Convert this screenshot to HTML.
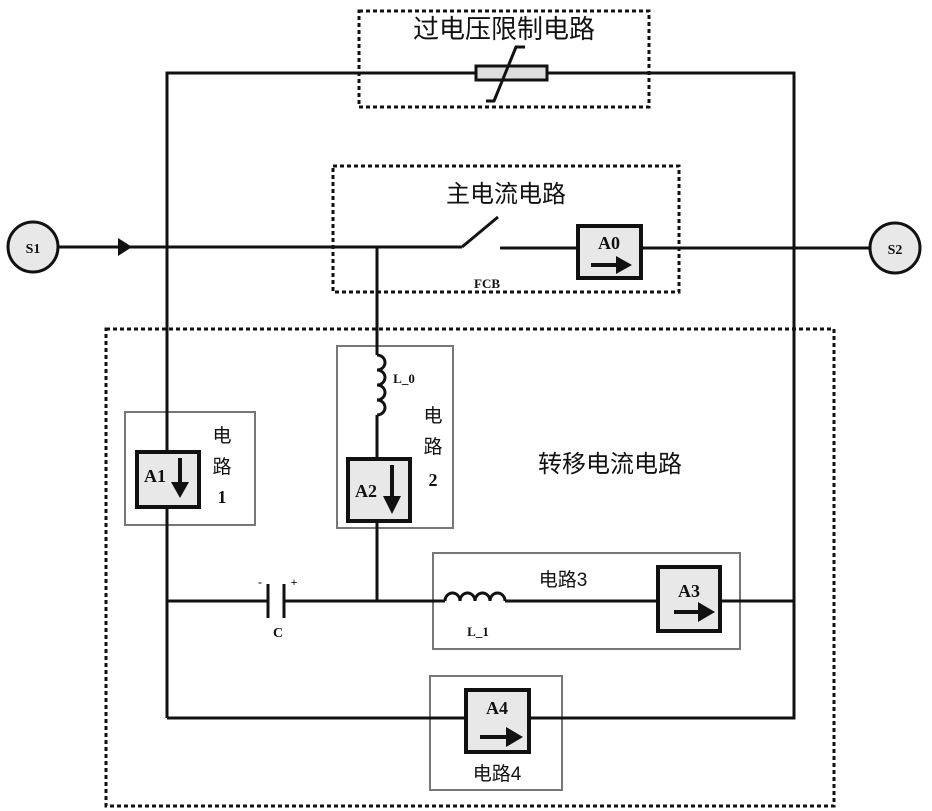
<!DOCTYPE html>
<html><head><meta charset="utf-8"><style>
body{margin:0;background:#fff}
svg{display:block}
.t{font-family:"Liberation Serif","Noto Serif CJK SC",serif;font-weight:bold;fill:#111}
.c{font-family:"Liberation Sans","Noto Sans CJK SC",sans-serif;fill:#111}
</style></head><body>
<svg width="932" height="811" viewBox="0 0 932 811" xmlns="http://www.w3.org/2000/svg">
<g fill="none" stroke="#111" stroke-width="3" stroke-dasharray="4,3">
<rect x="359" y="11" width="290" height="96"/>
<rect x="333" y="166" width="346" height="126"/>
<rect x="106" y="329" width="728" height="477"/>
</g>
<g fill="none" stroke="#777" stroke-width="2">
<rect x="125" y="412" width="130" height="113"/>
<rect x="337" y="346" width="116" height="182"/>
<rect x="433" y="553" width="307" height="96"/>
<rect x="430" y="676" width="132" height="114"/>
</g>
<g fill="none" stroke="#111" stroke-width="3">
<polyline points="167,718 167,73 794,73 794,718 167,718"/>
<line x1="56" y1="247" x2="462" y2="247"/>
<line x1="462" y1="247" x2="498" y2="217"/>
<line x1="500" y1="248" x2="870" y2="248"/>
<line x1="377" y1="247" x2="377" y2="355"/>
<line x1="377" y1="415" x2="377" y2="601"/>
<line x1="167" y1="601" x2="268" y2="601"/>
<line x1="284" y1="601" x2="445" y2="601"/>
<line x1="505" y1="601" x2="794" y2="601"/>
<path d="M377,355 a8,7.5 0 0 1 0,15 a8,7.5 0 0 1 0,15 a8,7.5 0 0 1 0,15 a8,7.5 0 0 1 0,15"/>
<path d="M445,601 a7.5,8 0 0 1 15,0 a7.5,8 0 0 1 15,0 a7.5,8 0 0 1 15,0 a7.5,8 0 0 1 15,0"/>
<line x1="268" y1="584" x2="268" y2="618"/>
<line x1="284" y1="584" x2="284" y2="618"/>
</g>
<rect x="476" y="66" width="71" height="14" fill="#ddd" stroke="#111" stroke-width="3"/>
<polyline points="486,101 494,101 516,47 525,47" fill="none" stroke="#111" stroke-width="3"/>
<path d="M118,238 L132,247 L118,256 Z" fill="#111"/>
<g fill="#e8e8e8" stroke="#111" stroke-width="4">
<circle cx="33" cy="247" r="25" stroke-width="3"/>
<circle cx="895" cy="248" r="25" stroke-width="3"/>
<rect x="578" y="226" width="63" height="52"/>
<rect x="137" y="452" width="62" height="55"/>
<rect x="348" y="459" width="62" height="62"/>
<rect x="658" y="567" width="62" height="64"/>
<rect x="466" y="690" width="63" height="62"/>
</g>
<g stroke="#111" stroke-width="4" fill="none">
<line x1="591" y1="265" x2="618" y2="265"/>
<line x1="180" y1="458" x2="180" y2="484"/>
<line x1="392" y1="465" x2="392" y2="498"/>
<line x1="674" y1="612" x2="700" y2="612"/>
<line x1="480" y1="737" x2="508" y2="737"/>
</g>
<g fill="#111">
<path d="M616,256 L632,265 L616,274 Z"/>
<path d="M171,482 L189,482 L180,498 Z"/>
<path d="M383,496 L401,496 L392,514 Z"/>
<path d="M698,602 L715,612 L698,622 Z"/>
<path d="M506,727 L523,737 L506,747 Z"/>
</g>
<g class="t" text-anchor="middle">
<text x="33" y="253" font-size="14">S1</text>
<text x="895" y="254" font-size="14">S2</text>
<text x="609" y="249" font-size="18">A0</text>
<text x="155" y="482" font-size="18">A1</text>
<text x="366" y="497" font-size="18">A2</text>
<text x="689" y="597" font-size="18">A3</text>
<text x="497" y="714" font-size="18">A4</text>
<text x="487" y="288" font-size="13">FCB</text>
<text x="404" y="383" font-size="13">L_0</text>
<text x="478" y="636" font-size="13">L_1</text>
<text x="278" y="637" font-size="14">C</text>
<text x="260" y="586" font-size="12">-</text>
<text x="294" y="586" font-size="12">+</text>
<text x="222" y="503" font-size="18">1</text>
<text x="433" y="486" font-size="18">2</text>
</g>
<g class="c" text-anchor="middle">
<text x="504" y="38" font-size="26">过电压限制电路</text>
<text x="506" y="202" font-size="24">主电流电路</text>
<text x="610" y="472" font-size="24">转移电流电路</text>
<text x="222" y="442" font-size="19">电</text>
<text x="222" y="473" font-size="19">路</text>
<text x="433" y="422" font-size="19">电</text>
<text x="433" y="453" font-size="19">路</text>
<text x="563" y="586" font-size="19">电路3</text>
<text x="497" y="780" font-size="19">电路4</text>
</g>
</svg>
</body></html>
